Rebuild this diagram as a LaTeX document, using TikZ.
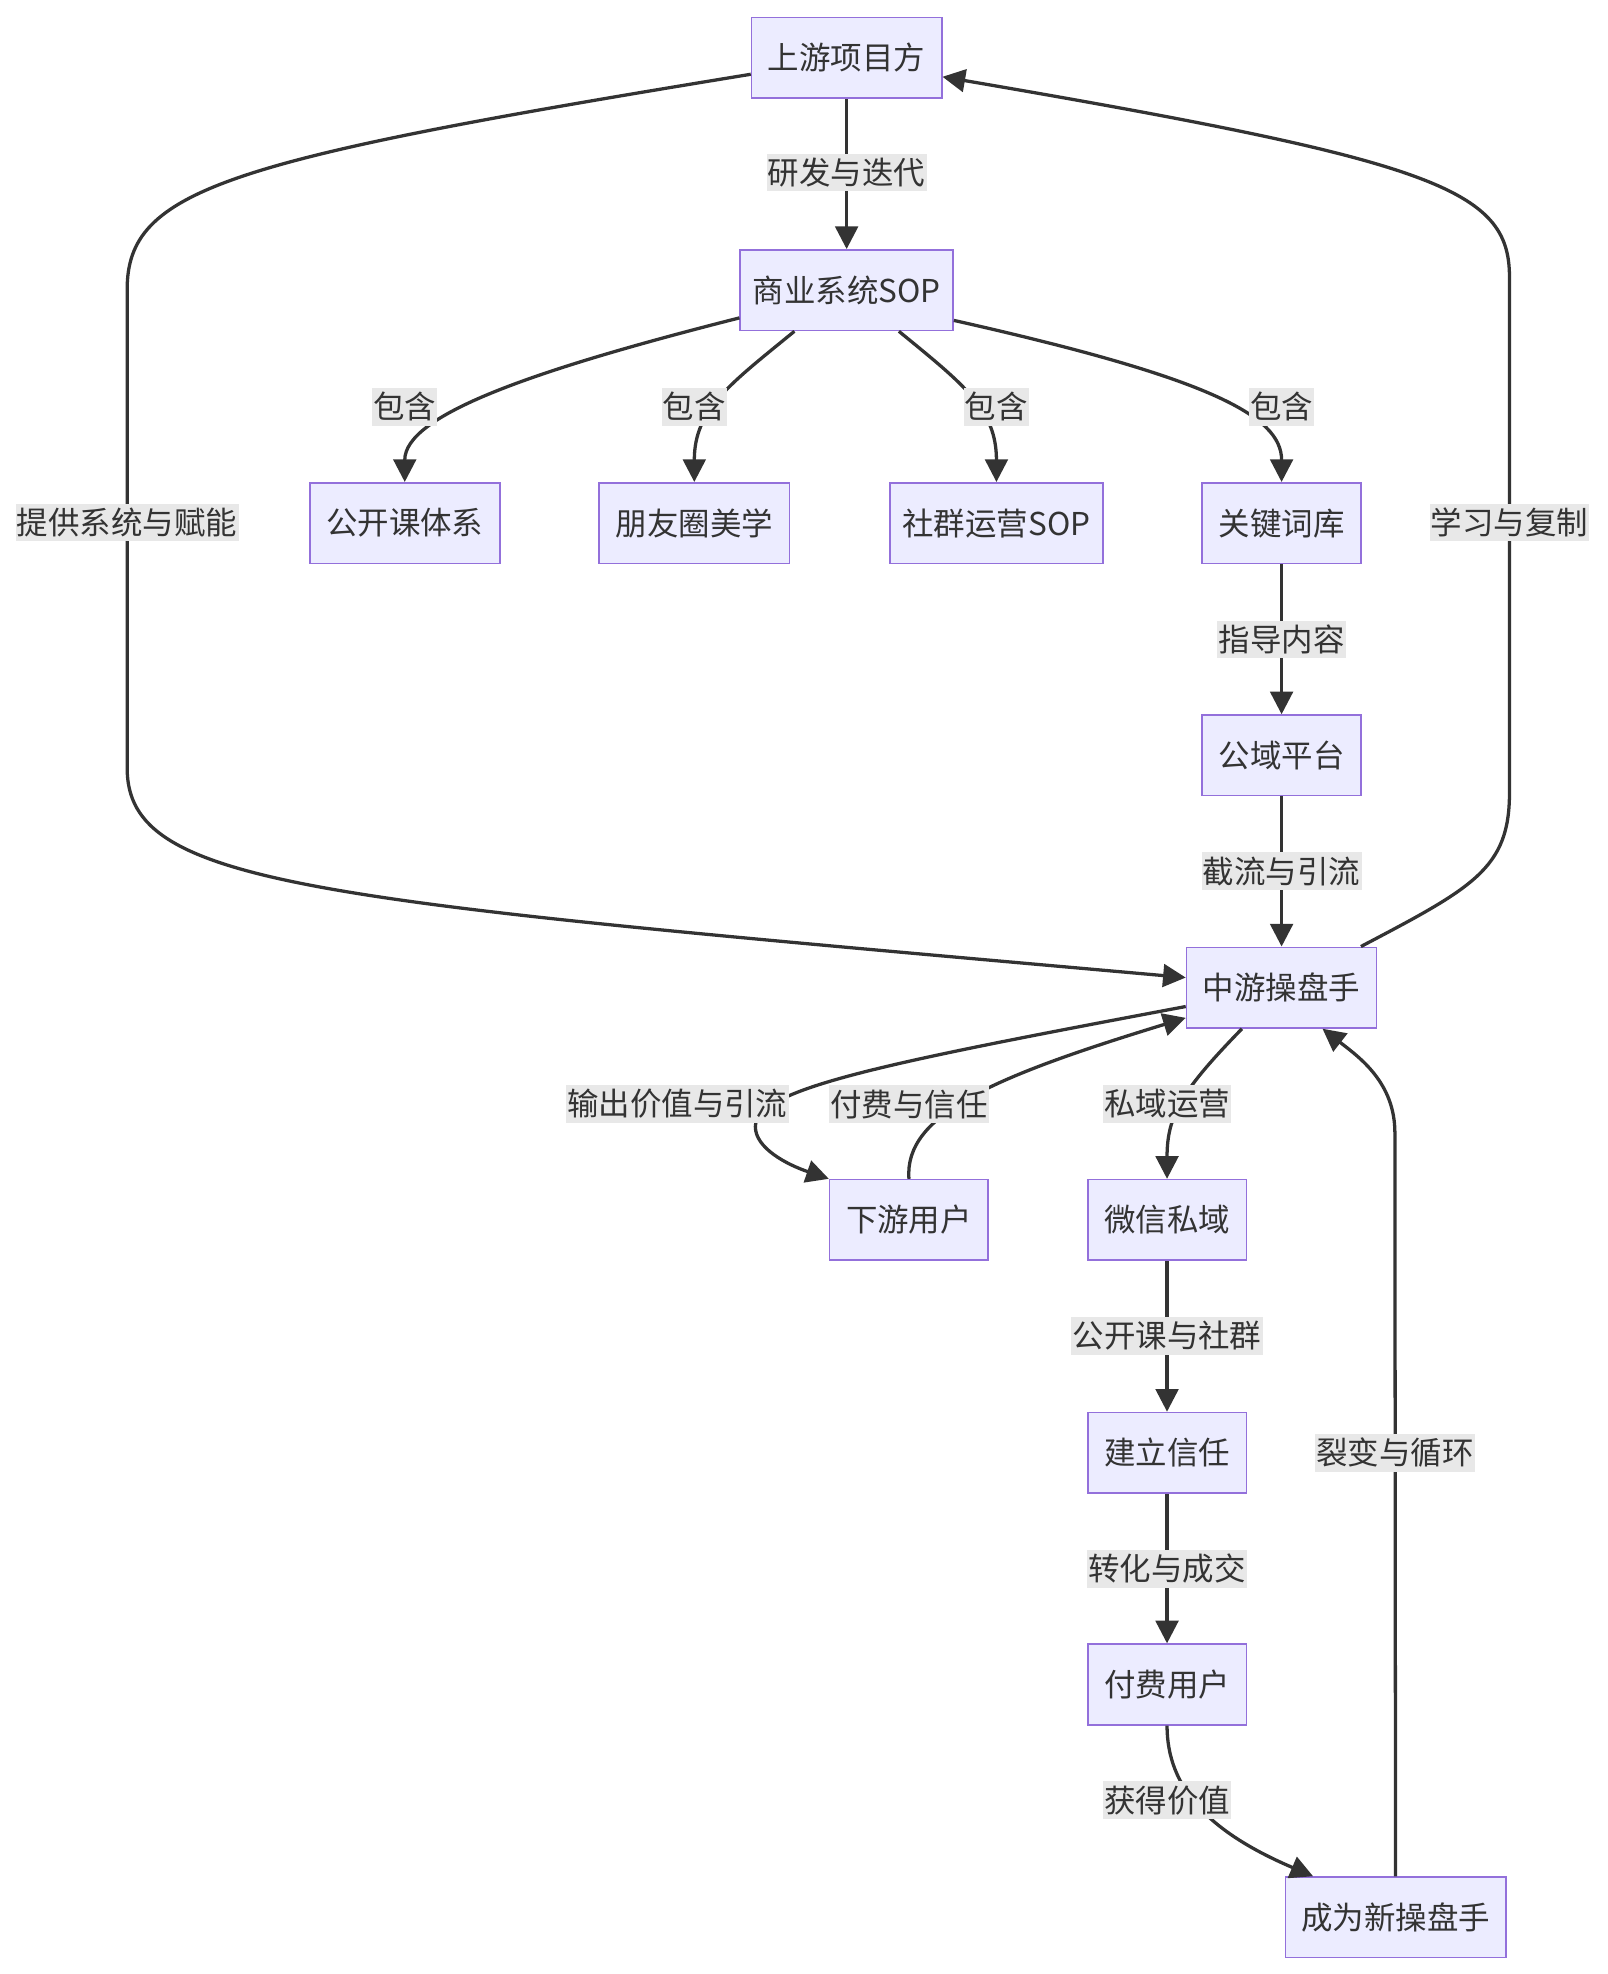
\documentclass[tikz,border=0pt]{standalone}
\usepackage{fontspec}
\newfontfamily\cjk{Noto Sans CJK SC}
\usetikzlibrary{arrows.meta,calc}
\definecolor{nodefill}{HTML}{ECECFF}
\definecolor{nodeline}{HTML}{9370DB}
\definecolor{ink}{HTML}{333333}
\definecolor{lblbg}{HTML}{E8E8E8}
\begin{document}
\begin{tikzpicture}[x=1pt,y=-1pt,
  box/.style={draw=nodeline, fill=nodefill, line width=1.3pt, minimum height=64pt, inner sep=0pt, text=ink, font=\cjk\fontsize{25}{30}\selectfont},
  lbl/.style={fill=lblbg, text=ink, inner xsep=1pt, inner ysep=0pt, minimum height=30pt, font=\cjk\fontsize{25}{30}\selectfont},
  edge/.style={draw=ink, line width=2.6pt, -{Triangle[length=18pt,width=18pt]}}]
\fill[white] (0,0) rectangle (1277,1568);
\useasboundingbox (0,0) rectangle (1277,1568);
% nodes
\node[box,minimum width=151pt] (top) at (672.5,46) {上游项目方};
\node[box,minimum width=169pt] (sop) at (672.5,230.5) {商业系统SOP};
\node[box,minimum width=151pt] (gk) at (321.5,415.5) {公开课体系};
\node[box,minimum width=151pt] (pyq) at (551.5,415.5) {朋友圈美学};
\node[box,minimum width=169pt] (sq) at (791.5,415.5) {社群运营SOP};
\node[box,minimum width=126pt] (gjc) at (1018,415.5) {关键词库};
\node[box,minimum width=126pt] (gy) at (1018,600) {公域平台};
\node[box,minimum width=151pt] (mid) at (1018,784.5) {中游操盘手};
\node[box,minimum width=126pt] (xy) at (722,969) {下游用户};
\node[box,minimum width=126pt] (wx) at (927,969) {微信私域};
\node[box,minimum width=126pt] (jl) at (927,1154) {建立信任};
\node[box,minimum width=126pt] (ff) at (927,1338) {付费用户};
\node[box,minimum width=175pt] (nw) at (1108.5,1523) {成为新操盘手};
% edges
\draw[edge] (top) -- (sop);
\draw[edge] ([yshift=-22pt]sop.west) .. controls (420,295) and (321.5,330) .. (gk.north);
\draw[edge] ([xshift=-41.5pt]sop.south) .. controls (580,305) and (551.5,325) .. (pyq.north);
\draw[edge] ([xshift=41.5pt]sop.south) .. controls (765,305) and (791.5,325) .. (sq.north);
\draw[edge] ([yshift=-24pt]sop.east) .. controls (960,300) and (1018,330) .. (gjc.north);
\draw[edge] (gjc) -- (gy);
\draw[edge] (gy) -- (mid);
\draw[edge] ([yshift=-13pt]top.west) .. controls (180,127) and (101,150) .. (101,230) -- (101,610) .. controls (101,705) and (250,715) .. ([yshift=8pt]mid.west);
\draw[edge] ([xshift=63pt]mid.north) .. controls (1170,705) and (1199,690) .. (1199,630) -- (1199,220) .. controls (1199,150) and (1140,128) .. ([yshift=-15pt]top.east);
\draw[edge] ([yshift=-15pt]mid.west) .. controls (700,845) and (600,865) .. (600,895) .. controls (600,912) and (625,925) .. (xy.north west);
\draw[edge] (xy.north) .. controls (718,885) and (790,855) .. ([yshift=-24pt]mid.west);
\draw[edge] ([xshift=-31.5pt]mid.south) .. controls (940,865) and (927,885) .. (wx.north);
\draw[edge] (wx) -- (jl);
\draw[edge] (jl) -- (ff);
\draw[edge] (ff.south) .. controls (927,1420) and (960,1455) .. ([xshift=-65.5pt]nw.north);
\draw[edge] (nw.north) -- (1108,900) .. controls (1108,860) and (1080,840) .. ([xshift=32.5pt]mid.south);
% labels
\node[lbl] (l1) at (672.5,137) {研发与迭代};
\node[lbl] (l2) at (321.5,323) {包含};
\node[lbl] (l3) at (551.5,323) {包含};
\node[lbl] (l4) at (791.5,323) {包含};
\node[lbl] (l5) at (1018,323) {包含};
\node[lbl] (l6) at (101,415) {提供系统与赋能};
\node[lbl] (l7) at (1199,415) {学习与复制};
\node[lbl] (l8) at (1018,508) {指导内容};
\node[lbl] (l9) at (1018,692) {截流与引流};
\node[lbl] (l10) at (538,877) {输出价值与引流};
\node[lbl] (l11) at (722,877) {付费与信任};
\node[lbl] (l12) at (927,877) {私域运营};
\node[lbl] (l13) at (927,1061) {公开课与社群};
\node[lbl] (l14) at (927,1246) {转化与成交};
\node[lbl] (l15) at (927,1430) {获得价值};
\node[lbl] (l16) at (1108,1154) {裂变与循环};
\end{tikzpicture}
\end{document}
